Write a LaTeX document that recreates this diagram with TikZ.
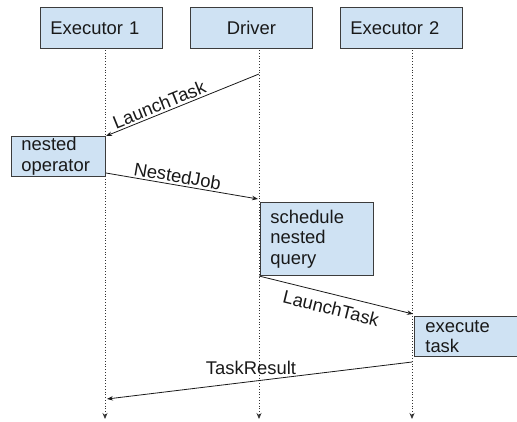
\documentclass[tikz,border=0pt]{standalone}
\usepackage{fontspec}
\setmainfont{Liberation Sans}
\usetikzlibrary{arrows.meta}
\definecolor{boxfill}{HTML}{CFE2F3}
\definecolor{boxline}{HTML}{3C3C3C}
\begin{document}
\begin{tikzpicture}[x=1pt,y=-1pt,
  every node/.style={font=\fontsize{18.4pt}{20.5pt}\selectfont, text=black!90},
  head/.style={draw=boxline, fill=boxfill, line width=0.8pt, anchor=north west,
    text width=102pt, inner xsep=10pt, inner ysep=0pt, minimum height=41pt},
  act/.style={draw=boxline, fill=boxfill, line width=0.8pt, anchor=north west,
    align=left, inner xsep=10pt, inner ysep=0pt},
  life/.style={dotted, line width=0.8pt, draw=black!80, -{Stealth[length=6pt,width=5pt]}},
  msg/.style={line width=0.8pt, draw=black!90, -{Stealth[length=6pt,width=4.5pt]}},
  lbl/.style={sloped, inner sep=2pt}]
\useasboundingbox (0,0) rectangle (517,421);

% participants
\node[head, align=left]   (ex1) at (40,7)  {Executor 1};
\node[head, align=center] (drv) at (190,7) {Driver};
\node[head, align=left]   (ex2) at (340,7) {Executor 2};

% lifelines
\coordinate (l1t) at (105,50);  \coordinate (l1b) at (105,419);
\coordinate (l2t) at (259,50);  \coordinate (l2b) at (259,419);
\coordinate (l3t) at (412,50);  \coordinate (l3b) at (412,419);
\draw[life] (l1t) -- (l1b);
\draw[life] (l2t) -- (l2b);
\draw[life] (l3t) -- (l3b);

% activations
\node[act, text width=74pt, minimum height=40pt] (nest) at (11,136) {nested\\operator};
\node[act, text width=93pt, minimum height=73pt] (sched) at (260,202) {schedule\\nested\\query};
\node[act, text width=81pt, inner xsep=11pt, minimum height=40pt] (exec) at (414,316) {execute\\task};

% message end points on the lifelines
\coordinate (m1s) at (259,74);  \coordinate (m1e) at (106,136);
\coordinate (m2s) at (106,173); \coordinate (m2e) at (258,199);
\coordinate (m3s) at (259,276); \coordinate (m3e) at (413,314);
\coordinate (m4s) at (412,362); \coordinate (m4e) at (107,399);

% messages
\draw[msg] (m1s) -- node[lbl, pos=0.63, above] (t1) {LaunchTask} (m1e);
\draw[msg] (m2s) -- node[lbl, pos=0.46, above] (t2) {NestedJob} (m2e);
\draw[msg] (m3s) -- node[lbl, pos=0.49, below=5pt] (t3) {LaunchTask} (m3e);
\draw[msg] (m4s) -- node[pos=0.528, above=4pt, inner sep=2pt] (t4) {TaskResult} (m4e);
\end{tikzpicture}
\end{document}
